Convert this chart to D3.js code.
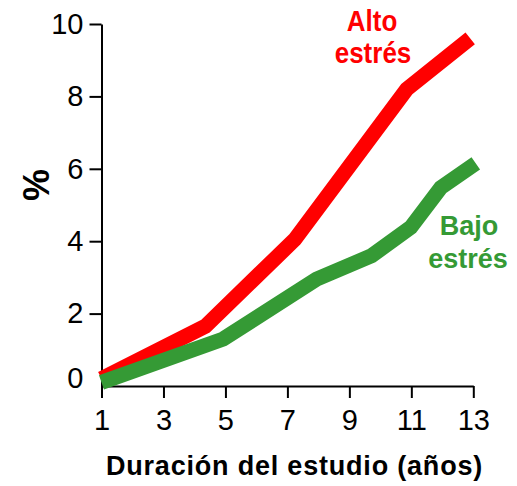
<!DOCTYPE html>
<html>
<head>
<meta charset="utf-8">
<script src="https://cdn.jsdelivr.net/npm/d3@7/dist/d3.min.js"></script>
<style>
  html, body { margin: 0; padding: 0; background: #fff; }
  svg { display: block; }
  text { font-family: "Liberation Sans", Arial, Helvetica, sans-serif; }
</style>
</head>
<body>
<svg id="chart" width="517" height="486"></svg>
<script>
// ---- data ----
const altoYears   = [1, 4.35, 7.24, 10.85, 12.9];
const altoValues  = [0.2, 1.65, 4.05, 8.2, 9.6];
const bajoYears   = [1, 4.93, 7.94, 9.72, 10.98, 11.95, 13.08];
const bajoValues  = [0.1, 1.3, 2.95, 3.6, 4.38, 5.48, 6.15];
const xTicks = [1, 3, 5, 7, 9, 11, 13];
const yTicks = [0, 2, 4, 6, 8, 10];
const seriesNames = [["Alto", "estrés"], ["Bajo", "estrés"]];
const xTitle = "Duración del estudio (años)";
const yTitle = "%";

const svg = d3.select("#chart");
const x = d3.scaleLinear().domain([1, 13]).range([101.5, 473.3]);
const y = d3.scaleLinear().domain([0, 10]).range([386, 24]);

const RED = "#ff0000", GREEN = "#359a35";

// axes
const xAxis = svg.append("g").attr("transform", "translate(0,386)")
  .call(d3.axisBottom(x).tickValues(xTicks).tickSize(12).tickSizeOuter(0).tickPadding(11));
const yAxis = svg.append("g").attr("transform", "translate(101.5,0)")
  .call(d3.axisLeft(y).tickValues(yTicks).tickSize(12).tickSizeOuter(0).tickPadding(6));

[xAxis, yAxis].forEach(g => {
  g.select(".domain").attr("stroke", "#000").attr("stroke-width", 2);
  g.selectAll(".tick line").attr("stroke", "#000").attr("stroke-width", 2);
  g.selectAll(".tick text").attr("fill", "#000").style("font-size", "29px")
    .style("font-family", "'Liberation Sans', Arial, sans-serif");
});
// zero tick on y: no tick mark, label nudged up
yAxis.selectAll(".tick").filter(d => d === 0).each(function() {
  d3.select(this).select("line").remove();
  d3.select(this).select("text").attr("y", -8);
});

// lines
const line = d3.line().x(d => x(d[0])).y(d => y(d[1]));
const alto = altoYears.map((v, i) => [v, altoValues[i]]);
const bajo = bajoYears.map((v, i) => [v, bajoValues[i]]);

svg.append("path").datum(alto).attr("d", line)
  .attr("fill", "none").attr("stroke", RED).attr("stroke-width", 15)
  .attr("stroke-linejoin", "miter").attr("stroke-linecap", "butt");
svg.append("path").datum(bajo).attr("d", line)
  .attr("fill", "none").attr("stroke", GREEN).attr("stroke-width", 15)
  .attr("stroke-linejoin", "miter").attr("stroke-linecap", "butt");

// series labels
svg.append("text").attr("text-anchor", "middle")
  .attr("transform", "translate(372,31) scale(1,1.12)")
  .attr("fill", RED).style("font-size", "26px").style("font-weight", "bold")
  .text(seriesNames[0][0]);
svg.append("text").attr("text-anchor", "middle")
  .attr("transform", "translate(373,63) scale(1,1.12)")
  .attr("fill", RED).style("font-size", "26px").style("font-weight", "bold")
  .text(seriesNames[0][1]);

const bajoLbl = svg.append("text").attr("text-anchor", "middle")
  .attr("fill", GREEN).style("font-size", "27px").style("font-weight", "bold");
bajoLbl.append("tspan").attr("x", 469).attr("y", 235).text(seriesNames[1][0]);
bajoLbl.append("tspan").attr("x", 468).attr("y", 268).text(seriesNames[1][1]);

// axis titles
svg.append("text").attr("x", 294.5).attr("y", 475).attr("text-anchor", "middle")
  .style("font-size", "27px").style("font-weight", "bold").style("letter-spacing", "0.8px")
  .attr("fill", "#000").text(xTitle);

svg.append("text").attr("transform", "translate(36,185) rotate(-90)")
  .attr("text-anchor", "middle").attr("dy", "0.36em")
  .style("font-size", "36px").style("font-weight", "bold")
  .attr("fill", "#000").text(yTitle);
</script>
</body>
</html>
